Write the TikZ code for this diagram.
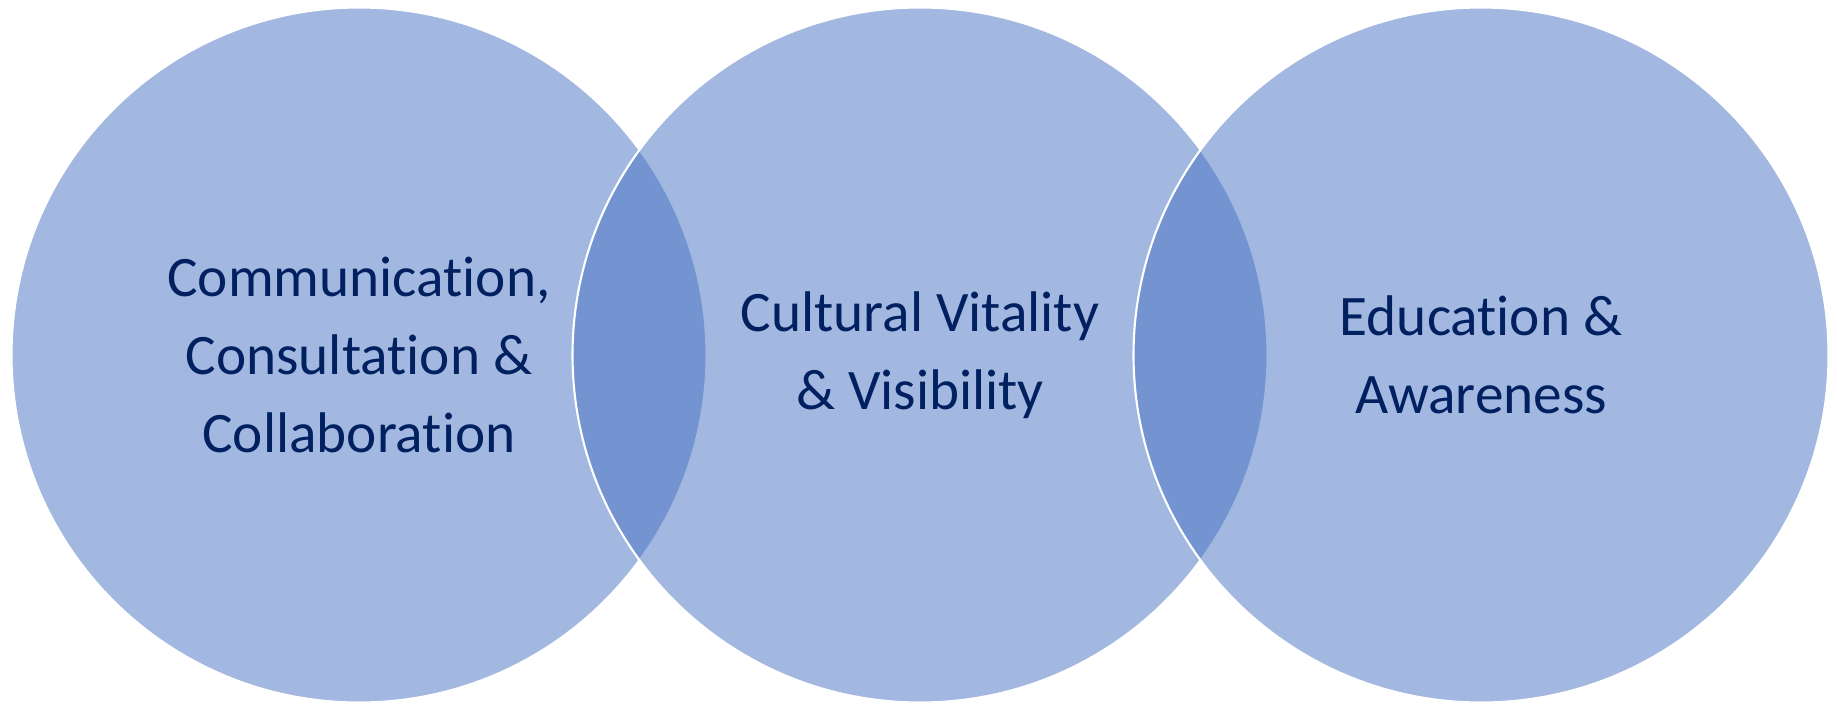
\documentclass[tikz,border=0pt]{standalone}
\usepackage{fontspec}
\setmainfont[Ligatures=NoCommon]{Carlito}
\definecolor{bubbleblue}{RGB}{69,113,193}
\definecolor{navytext}{RGB}{0,32,96}
\tikzset{
    bubble/.style={circle, minimum size=6.95cm, inner sep=0pt, outer sep=0pt,
        fill=bubbleblue, fill opacity=0.5, text opacity=1,
        draw=white, line width=0.6pt, align=center, text=navytext,
        font=\fontsize{16.3}{22.2}\selectfont}
}
\begin{document}
\begin{tikzpicture}
        \useasboundingbox (0, 0) rectangle (18.37, 7.06);
        \node[bubble] (comm) at (3.59, 3.51){Communication,\\Consultation \&\\Collaboration};
        \node[bubble] (culture) at (9.20, 3.51){Cultural Vitality\\\& Visibility};
        \node[bubble] (edu) at (14.81, 3.51){Education \&\\Awareness};
    \end{tikzpicture}
\end{document}
